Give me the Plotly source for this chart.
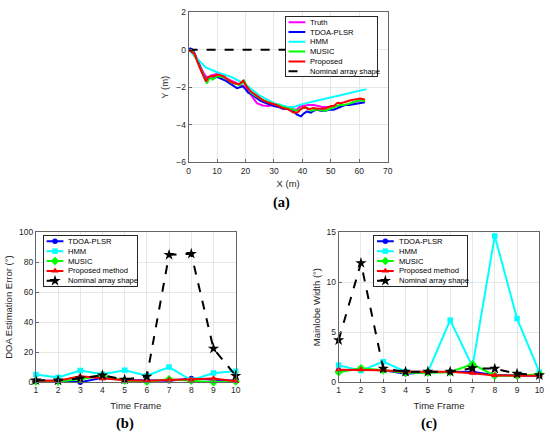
import plotly.graph_objects as go

W, H = 550, 438

# ---- (a) trajectories ----
truth_x = [0, 1.5, 3, 4.5, 5.5, 6.5, 7.5, 8.5, 10, 11.5, 13, 15, 16.5, 18, 19.5, 20.5, 22, 23, 24, 26, 28,
           30, 31.5, 33, 35, 36.5, 38, 39, 40, 42, 44, 45.5, 47, 48.5, 50, 52, 53.5, 55, 56.5, 58, 60, 61, 62]
truth_y = [0, -0.2, -0.55, -1.0, -1.3, -1.5, -1.4, -1.35, -1.3, -1.35, -1.5, -1.65, -1.75, -1.85, -1.95, -2.1,
           -2.4, -2.65, -2.85, -2.97, -3.0, -2.95, -3.0, -3.1, -3.15, -3.2, -3.2, -3.05, -3.0, -2.95, -2.95,
           -3.0, -3.05, -3.05, -3.05, -3.0, -3.0, -2.95, -2.9, -2.8, -2.7, -2.68, -2.7]

tdoa_x = [0, 0.6, 1.5, 3, 4.5, 5.5, 6.5, 7.5, 8.5, 10, 11.5, 13, 15, 17, 18, 19, 20, 21, 22, 23.5, 25, 26.5, 28,
          30, 31.5, 33, 34.5, 36, 37, 38, 39.5, 40.5, 41.5, 43, 44, 45, 46.5, 48, 49.5, 51, 52.5, 53.5, 55,
          56.5, 58, 59.5, 61, 62]
tdoa_y = [0, 0.07, 0, -0.5, -1.1, -1.45, -1.65, -1.5, -1.55, -1.45, -1.55, -1.65, -1.85, -2.05, -2.0, -1.95,
          -2.1, -2.3, -2.35, -2.55, -2.7, -2.8, -2.9, -3.0, -3.05, -3.15, -3.15, -3.25, -3.3, -3.45, -3.55,
          -3.4, -3.3, -3.35, -3.25, -3.2, -3.25, -3.25, -3.2, -3.2, -3.1, -3.05, -2.95, -2.95, -2.9, -2.85,
          -2.8, -2.8]

hmm_x = [0, 3, 6, 10, 15, 20, 25, 30, 35, 37, 40, 45, 50, 55, 62.5]
hmm_y = [0, -0.5, -0.95, -1.2, -1.45, -1.85, -2.45, -2.85, -3.05, -3.05, -2.9, -2.72, -2.55, -2.38, -2.1]

music_x = [0, 1.5, 3, 4.5, 5.5, 6.5, 7.5, 8.5, 10, 11.5, 13, 15, 16.5, 18, 19.5, 20.5, 22, 23.5, 25, 26.5, 28,
           30, 31.5, 33, 34.5, 36, 38, 39.5, 40.5, 42, 43, 44.5, 46, 48, 50, 51.5, 53, 54.5, 56, 58, 60, 61, 62]
music_y = [0, -0.1, -0.6, -1.1, -1.4, -1.8, -1.45, -1.6, -1.4, -1.45, -1.5, -1.75, -1.8, -1.9, -1.65, -1.95,
           -2.3, -2.45, -2.6, -2.7, -2.8, -2.9, -2.95, -3.05, -3.1, -3.15, -3.25, -3.15, -3.1, -3.1, -3.25,
           -3.2, -3.2, -3.25, -3.15, -3.05, -2.95, -2.95, -2.9, -2.8, -2.7, -2.72, -2.75]

prop_x = [0, 2.1, 3.8, 5.0, 5.6, 6.1, 6.7, 7.9, 9, 10.2, 11.5, 12.5, 14.2, 16, 17.7, 19.2, 20.3, 21.8, 23.5,
          25.8, 28.1, 30.4, 32.8, 35.1, 36.8, 38.3, 39.7, 40.9, 42, 43.8, 45.5, 47.8, 50.1, 51, 52.4, 53.5,
          54.7, 57, 59.4, 60.5, 62]
prop_y = [0, -0.23, -0.92, -1.3, -1.53, -1.7, -1.48, -1.41, -1.4, -1.32, -1.38, -1.44, -1.65, -1.79, -1.84,
          -1.65, -1.96, -2.22, -2.4, -2.66, -2.83, -2.92, -3.09, -3.18, -3.35, -3.35, -3.14, -3.04, -3.18,
          -3.11, -3.14, -3.14, -3.0, -3.0, -2.83, -2.85, -2.8, -2.69, -2.62, -2.6, -2.66]

nominal_x = [0, 34]
nominal_y = [0, 0]

# ---- (b) / (c) per time frame ----
frames = [1, 2, 3, 4, 5, 6, 7, 8, 9, 10]

doa_tdoa = [1.0, 1.0, 0.0, 3.0, 1.5, 1.0, 1.0, 2.4, 1.5, 1.0]
doa_hmm = [5.1, 3.2, 7.8, 5.3, 8.0, 4.3, 10.1, 1.3, 6.1, 7.3]
doa_music = [0.5, 0.5, 2.0, 4.5, 1.0, 0.3, 2.0, 1.0, 0.0, 0.5]
doa_prop = [1.0, 1.0, 3.9, 2.4, 1.3, 1.0, 1.5, 1.5, 2.4, 0.6]
doa_nominal = [1.3, 1.2, 2.5, 4.6, 1.8, 3.8, 84.8, 85.5, 22.4, 4.3]

mlw_tdoa = [1.2, 1.25, 1.2, 0.85, 1.0, 1.05, 1.05, 0.7, 0.65, 0.65]
mlw_hmm = [1.7, 1.15, 2.05, 1.05, 1.0, 6.2, 1.55, 14.6, 6.35, 1.0]
mlw_music = [1.0, 1.4, 1.2, 0.95, 0.95, 1.0, 1.8, 0.65, 0.65, 0.8]
mlw_prop = [1.25, 1.25, 1.2, 1.05, 1.05, 1.05, 0.9, 0.68, 0.65, 0.65]
mlw_nominal = [4.2, 11.9, 1.35, 1.05, 1.05, 1.05, 1.4, 1.35, 0.85, 0.7]

MAGENTA, BLUE, CYAN, GREEN, RED, BLACK = "#ff00ff", "#0000ff", "#00ffff", "#00ff00", "#ff0000", "#000000"
FONT = "Liberation Sans"
TXT = "#262626"


def px_dom_x(a, b):
    return [a / W, b / W]


def px_dom_y(top, bottom):
    return [1 - bottom / H, 1 - top / H]


fig = go.Figure()

# (a)
for name, xs, ys, col, dash in [
    ("Truth", truth_x, truth_y, MAGENTA, "solid"),
    ("TDOA-PLSR", tdoa_x, tdoa_y, BLUE, "solid"),
    ("HMM", hmm_x, hmm_y, CYAN, "solid"),
    ("MUSIC", music_x, music_y, GREEN, "solid"),
    ("Proposed", prop_x, prop_y, RED, "solid"),
    ("Nominal array shape", nominal_x, nominal_y, BLACK, "dash"),
]:
    fig.add_trace(go.Scatter(x=xs, y=ys, mode="lines", name=name, showlegend=False,
                             line=dict(color=col, width=2, dash=dash), xaxis="x", yaxis="y"))

series_bc = [
    ("TDOA-PLSR", BLUE, "circle", "solid", 5.5),
    ("HMM", CYAN, "square", "solid", 5.5),
    ("MUSIC", GREEN, "diamond", "solid", 6.5),
    ("Proposed method", RED, "triangle-up", "solid", 6.5),
    ("Nominal array shape", BLACK, "star", "dash", 8.5),
]

for ax, data in [("2", [doa_tdoa, doa_hmm, doa_music, doa_prop, doa_nominal]),
                 ("3", [mlw_tdoa, mlw_hmm, mlw_music, mlw_prop, mlw_nominal])]:
    for (name, col, sym, dash, size), ys in zip(series_bc, data):
        fig.add_trace(go.Scatter(x=frames, y=ys, mode="lines+markers", name=name, showlegend=False,
                                 line=dict(color=col, width=2, dash=dash),
                                 marker=dict(symbol=sym, size=size, color=col, line=dict(width=0)),
                                 cliponaxis=False, xaxis="x" + ax, yaxis="y" + ax))

# hand-made legends (plotly legend rows are too tall for this layout)
legends = [
    ("4", (287.7, 380, 12.7, 72.7),
     [("Truth", MAGENTA, None, "solid", 0), ("TDOA-PLSR", BLUE, None, "solid", 0),
      ("HMM", CYAN, None, "solid", 0), ("MUSIC", GREEN, None, "solid", 0),
      ("Proposed", RED, None, "solid", 0), ("Nominal array shape", BLACK, None, "dash", 0)]),
    ("5", (42.7, 136.7, 236.7, 287.3), series_bc),
    ("6", (377.3, 471, 236.7, 287.3), series_bc),
]

annotations = []
layout_axes = {}
for ax, (x0, x1, y0, y1), entries in legends:
    w, h = x1 - x0, y1 - y0
    n = len(entries)
    for i, (name, col, sym, dash, size) in enumerate(entries):
        yc = (i + 0.5) * h / n
        fig.add_trace(go.Scatter(x=[2.5, 19.5], y=[yc, yc], mode="lines", showlegend=False, hoverinfo="skip",
                                 line=dict(color=col, width=2, dash=dash), xaxis="x" + ax, yaxis="y" + ax))
        if sym:
            fig.add_trace(go.Scatter(x=[11], y=[yc], mode="markers", showlegend=False, hoverinfo="skip",
                                     marker=dict(symbol=sym, size=size, color=col, line=dict(width=0)),
                                     cliponaxis=False, xaxis="x" + ax, yaxis="y" + ax))
        annotations.append(dict(x=22.5, y=yc, xref="x" + ax, yref="y" + ax, text=name, showarrow=False,
                                xanchor="left", yanchor="middle",
                                font=dict(family=FONT, size=7.6, color=BLACK)))
    layout_axes["xaxis" + ax] = dict(domain=px_dom_x(x0, x1), range=[0, w], showgrid=False, zeroline=False,
                                     showticklabels=False, ticks="", showline=True, mirror=True,
                                     linecolor="#262626", linewidth=1, anchor="y" + ax, fixedrange=True)
    layout_axes["yaxis" + ax] = dict(domain=px_dom_y(y0, y1), range=[h, 0], showgrid=False, zeroline=False,
                                     showticklabels=False, ticks="", showline=True, mirror=True,
                                     linecolor="#262626", linewidth=1, anchor="x" + ax, fixedrange=True)


def data_axis(dom, rng, dtick, title, standoff, anchor):
    return dict(domain=dom, range=rng, dtick=dtick, anchor=anchor,
                showgrid=True, gridcolor="#e6e6e6", gridwidth=1, zeroline=False,
                showline=True, mirror=True, linecolor="#666666", linewidth=1,
                ticks="inside", ticklen=3, tickcolor="#666666",
                tickfont=dict(family=FONT, size=8.5, color=TXT),
                title=dict(text=title, standoff=standoff, font=dict(family=FONT, size=9.5, color=TXT)))


layout_axes["xaxis"] = data_axis(px_dom_x(189, 390.7), [0, 70], 10, "X (m)", 5, "y")
layout_axes["yaxis"] = data_axis(px_dom_y(7.3, 161), [-6, 2], 2, "Y (m)", 5, "x")
layout_axes["xaxis2"] = data_axis(px_dom_x(34.3, 236.7), [1, 10], 1, "Time Frame", 7, "y2")
layout_axes["yaxis2"] = data_axis(px_dom_y(232.3, 386), [0, 100], 20, "DOA Estimation Error (°)", 4, "x2")
layout_axes["xaxis3"] = data_axis(px_dom_x(341, 544.3), [1, 10], 1, "Time Frame", 7, "y3")
layout_axes["yaxis3"] = data_axis(px_dom_y(232.3, 386), [0, 15], 5, "Mainlobe Width (°)", 4, "x3")

for text, cx, cy in [("(a)", 283.3, 201.7), ("(b)", 124.2, 428), ("(c)", 432, 428)]:
    annotations.append(dict(x=cx / W, y=1 - cy / H, xref="paper", yref="paper", text="<b>" + text + "</b>",
                            showarrow=False, xanchor="center", yanchor="middle",
                            font=dict(family="Liberation Serif", size=14.5, color=BLACK)))

fig.update_layout(
    width=W, height=H,
    margin=dict(l=0, r=0, t=0, b=0),
    paper_bgcolor="white", plot_bgcolor="white",
    showlegend=False,
    annotations=annotations,
    **layout_axes,
)

# drop the browser's default 8px body margin so the figure sits at the page corner
fig.write_html("out.html", config={"displayModeBar": False},
               post_script="document.body.style.margin='0';")
